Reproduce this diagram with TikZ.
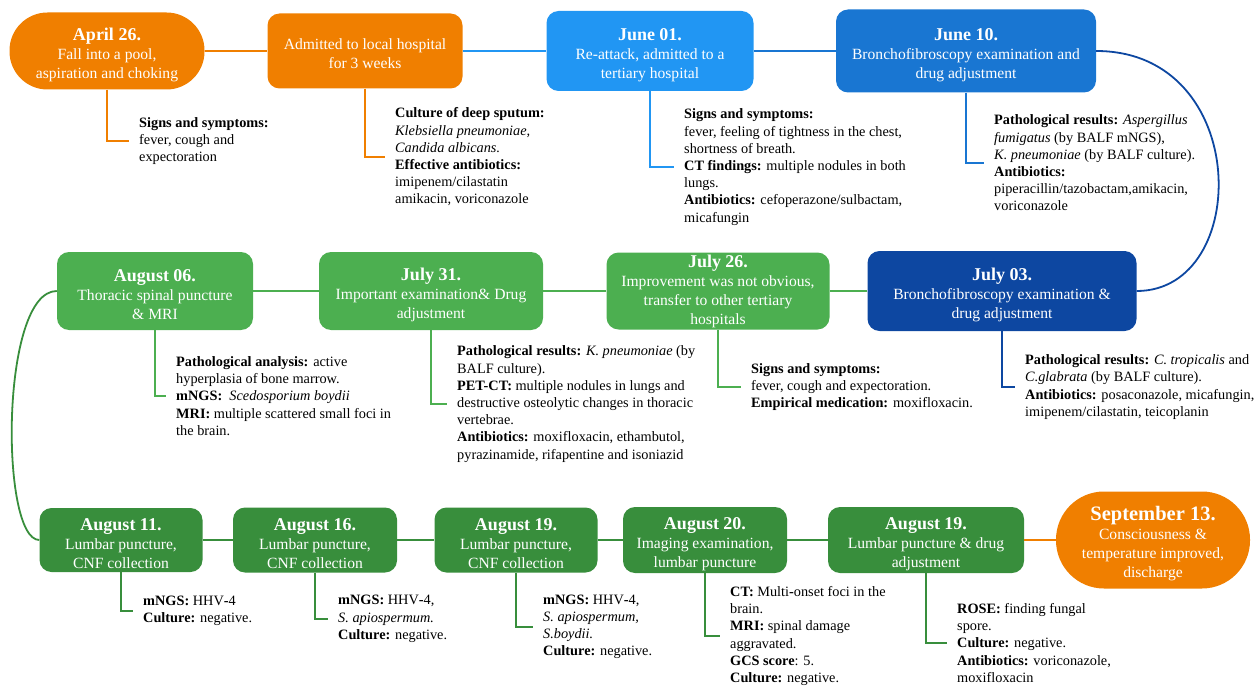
\documentclass[tikz,border=0pt]{standalone}
\usepackage{fontspec}
\setmainfont{Liberation Serif}
\usepackage{xcolor}
\usepackage{tikz}
\usetikzlibrary{positioning, calc}
\definecolor{evOrange}{RGB}{240,127,0}
\definecolor{evSky}{RGB}{33,150,243}
\definecolor{evBlue}{RGB}{25,118,210}
\definecolor{evNavy}{RGB}{13,71,161}
\definecolor{evGreen}{RGB}{76,175,80}
\definecolor{evDkGreen}{RGB}{56,142,60}
\tikzstyle{event} = [rectangle, rounded corners=12pt, text centered, align=center, text=white, inner xsep=4pt, inner ysep=1pt, font=\fontsize{15.6}{19}\selectfont]
\tikzstyle{note} = [anchor=west, align=left, inner xsep=10pt, inner ysep=0pt, font=\fontsize{14.3}{17.2}\selectfont]
\tikzstyle{link} = [line width=1.8pt]
\newcommand{\evdate}[1]{\rule{0pt}{20pt}{\fontsize{18}{20}\selectfont\bfseries #1}}

\begin{document}
\begin{tikzpicture}[x=1pt, y=-1pt]
\useasboundingbox (0,0) rectangle (1255,687);

% first row
\node[event, fill=evOrange, rounded corners=38pt, minimum width=195pt, minimum height=77pt] (apr26) at (107,51) {\evdate{April 26.}\\Fall into a pool,\\aspiration and choking};
\node[event, fill=evOrange, minimum width=195pt, minimum height=75pt] (adm) at (365,51) {\rule{0pt}{16pt}Admitted to local hospital\\for 3 weeks};
\node[event, fill=evSky, minimum width=207pt, minimum height=80pt] (jun01) at (650,51) {\evdate{June 01.}\\Re-attack, admitted to a\\tertiary hospital};
\node[event, fill=evBlue, minimum width=260pt, minimum height=83pt] (jun10) at (966,51) {\evdate{June 10.}\\Bronchofibroscopy examination and\\drug adjustment};

% second row
\node[event, fill=evGreen, minimum width=196pt, minimum height=78pt] (aug06) at (155,291) {\evdate{August 06.}\\Thoracic spinal puncture\\\& MRI};
\node[event, fill=evGreen, minimum width=224pt, minimum height=78pt] (jul31) at (431,291) {\evdate{July 31.}\\Important examination\& Drug\\adjustment};
\node[event, fill=evGreen, minimum width=223pt, minimum height=77pt] (jul26) at (718,291) {{\fontsize{18}{20}\selectfont\bfseries July 26.}\\Improvement was not obvious,\\transfer to other tertiary\\hospitals};
\node[event, fill=evNavy, minimum width=269pt, minimum height=80pt] (jul03) at (1002,291) {\evdate{July 03.}\\Bronchofibroscopy examination \&\\drug adjustment};

% third row
\node[event, fill=evDkGreen, minimum width=163pt, minimum height=64pt] (aug11) at (121,540) {\evdate{August 11.}\\Lumbar puncture,\\CNF collection};
\node[event, fill=evDkGreen, minimum width=164pt, minimum height=65pt] (aug16) at (315,540) {\evdate{August 16.}\\Lumbar puncture,\\CNF collection};
\node[event, fill=evDkGreen, minimum width=163pt, minimum height=65pt] (aug19) at (516,540) {\evdate{August 19.}\\Lumbar puncture,\\CNF collection};
\node[event, fill=evDkGreen, minimum width=164pt, minimum height=66pt] (aug20) at (705,540) {\evdate{August 20.}\\Imaging examination,\\lumbar puncture};
\node[event, fill=evDkGreen, minimum width=196pt, minimum height=66pt] (aug19b) at (926,540) {\evdate{August 19.}\\Lumbar puncture \& drug\\adjustment};
\node[event, fill=evOrange, rounded corners=48pt, minimum width=194pt, minimum height=97pt] (sep13) at (1153,540) {\rule{0pt}{22pt}{\fontsize{20.5}{22}\selectfont\bfseries September 13.}\\Consciousness \&\\temperature improved,\\discharge};

% notes
\node[note] (apr26n) at (129,141) {\textbf{Signs and symptoms:}\\fever, cough and\\expectoration};
\node[note] (admn) at (385,157) {\textbf{Culture of deep sputum:}\\\textit{Klebsiella pneumoniae,}\\\textit{Candida albicans.}\\\textbf{Effective antibiotics:}\\imipenem/cilastatin\\amikacin, voriconazole};
\node[note] (jun01n) at (674,167) {\textbf{Signs and symptoms:}\\fever, feeling of tightness in the chest,\\shortness of breath.\\\textbf{CT findings:} multiple nodules in both\\lungs.\\\textbf{Antibiotics:} cefoperazone/sulbactam,\\micafungin};
\node[note] (jun10n) at (984,163) {\textbf{Pathological results:} \textit{Aspergillus}\\\textit{fumigatus} (by BALF mNGS),\\\textit{K. pneumoniae} (by BALF culture).\\\textbf{Antibiotics:}\\piperacillin/tazobactam,amikacin,\\voriconazole};
\node[note] (aug06n) at (166,396) {\textbf{Pathological analysis:} active\\hyperplasia of bone marrow.\\\textbf{mNGS:}\ \ \textit{Scedosporium boydii}\\\textbf{MRI:} multiple scattered small foci in\\the brain.};
\node[note] (jul31n) at (447,404) {\textbf{Pathological results:} \textit{K. pneumoniae} (by\\BALF culture).\\\textbf{PET-CT:} multiple nodules in lungs and\\destructive osteolytic changes in thoracic\\vertebrae.\\\textbf{Antibiotics:} moxifloxacin, ethambutol,\\pyrazinamide, rifapentine and isoniazid};
\node[note] (jul26n) at (741,387) {\textbf{Signs and symptoms:}\\fever, cough and expectoration.\\\textbf{Empirical medication:} moxifloxacin.};
\node[note] (jul03n) at (1015,387) {\textbf{Pathological results:} \textit{C. tropicalis} and\\\textit{C.glabrata} (by BALF culture).\\\textbf{Antibiotics:} posaconazole, micafungin,\\imipenem/cilastatin, teicoplanin};
\node[note] (aug11n) at (133,611) {\textbf{mNGS:} HHV\textbf{-}4\\\textbf{Culture:} negative.};
\node[note] (aug16n) at (328,619) {\textbf{mNGS:} HHV\textbf{-}4,\\\textit{S. apiospermum.}\\\textbf{Culture:} negative.};
\node[note] (aug19n) at (533,627) {\textbf{mNGS:} HHV\textbf{-}4,\\\textit{S. apiospermum,}\\\textit{S.boydii.}\\\textbf{Culture:} negative.};
\node[note] (aug20n) at (720,636) {\textbf{CT:} Multi\textbf{-}onset foci in the\\brain.\\\textbf{MRI:} spinal damage\\aggravated.\\\textbf{GCS score}: 5.\\\textbf{Culture:} negative.};
\node[note] (aug19bn) at (947,643) {\textbf{ROSE:} finding fungal\\spore.\\\textbf{Culture:} negative.\\\textbf{Antibiotics:} voriconazole,\\moxifloxacin};

% timeline links
\draw[link, evOrange] (apr26) -- (adm);
\draw[link, evSky] (adm) -- (jun01);
\draw[link, evBlue] (jun01) -- (jun10);
\draw[link, evNavy] (jun10.east) .. controls (1252,51) and (1252,291) .. (jul03.east);
\draw[link, evGreen] (jul03) -- (jul26);
\draw[link, evGreen] (jul26) -- (jul31);
\draw[link, evGreen] (jul31) -- (aug06);
\draw[link, evDkGreen] (aug06.west) .. controls (0,291) and (0,540) .. (aug11.west);
\draw[link, evDkGreen] (aug11) -- (aug16);
\draw[link, evDkGreen] (aug16) -- (aug19);
\draw[link, evDkGreen] (aug19) -- (aug20);
\draw[link, evDkGreen] (aug20) -- (aug19b);
\draw[link, evOrange] (aug19b) -- (sep13);

% elbows to notes
\draw[link, evOrange] (apr26.south) |- (apr26n.west);
\draw[link, evOrange] (adm.south) |- (admn.west);
\draw[link, evSky] (jun01.south) |- (jun01n.west);
\draw[link, evBlue] (jun10.south) |- (jun10n.west);
\draw[link, evGreen] (aug06.south) |- (aug06n.west);
\draw[link, evGreen] (jul31.south) |- (jul31n.west);
\draw[link, evGreen] (jul26.south) |- (jul26n.west);
\draw[link, evNavy] (jul03.south) |- (jul03n.west);
\draw[link, evDkGreen] (aug11.south) |- (aug11n.west);
\draw[link, evDkGreen] (aug16.south) |- (aug16n.west);
\draw[link, evDkGreen] (aug19.south) |- (aug19n.west);
\draw[link, evDkGreen] (aug20.south) |- (aug20n.west);
\draw[link, evDkGreen] (aug19b.south) |- (aug19bn.west);

\end{tikzpicture}
\end{document}
